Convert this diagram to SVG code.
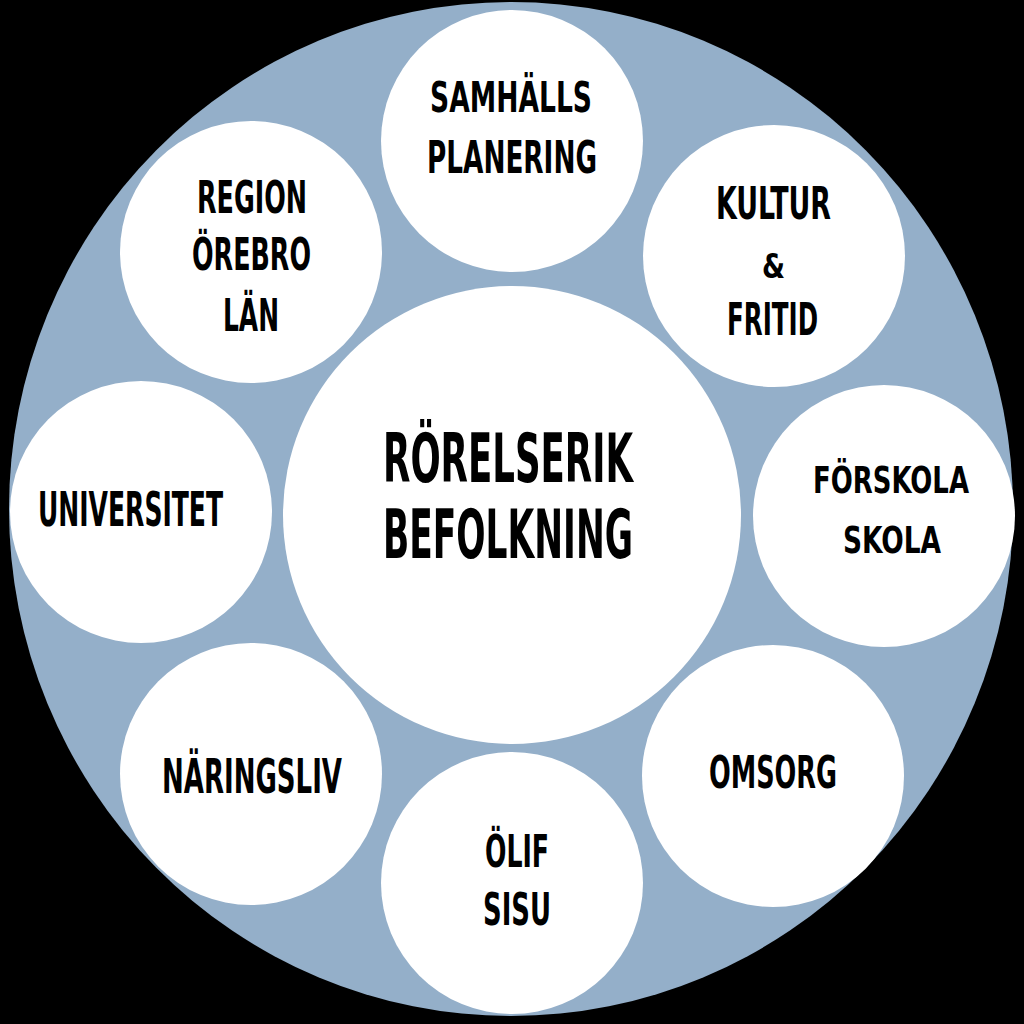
<svg xmlns="http://www.w3.org/2000/svg" width="1024" height="1024" viewBox="0 0 1024 1024">
<style>
.c{fill:#ffffff}
.t{font-family:"DejaVu Sans Condensed","DejaVu Sans",sans-serif;font-weight:bold;fill:#000000;text-anchor:middle;font-size:45px}
.big{font-size:67px}
</style>
<rect x="0" y="0" width="1024" height="1024" fill="#000000"/>
<ellipse id="ring" cx="511" cy="509" rx="502" ry="507" fill="#94afc9"/>
<g id="connectors"/>
<g id="n-center"><circle class="c" cx="512" cy="515" r="229"/>
<text class="t big" x="508" y="482" textLength="250" lengthAdjust="spacingAndGlyphs">RÖRELSERIK</text>
<text class="t big" x="508" y="558" textLength="250" lengthAdjust="spacingAndGlyphs">BEFOLKNING</text></g>
<g id="n-samhalls"><circle class="c" cx="512" cy="141" r="131"/>
<text class="t" x="511" y="112" style="font-size:42px" textLength="162" lengthAdjust="spacingAndGlyphs">SAMHÄLLS</text>
<text class="t" x="512" y="173" textLength="170" lengthAdjust="spacingAndGlyphs">PLANERING</text></g>
<g id="n-kultur"><circle class="c" cx="774" cy="256" r="131"/>
<text class="t" x="773.5" y="219" textLength="115" lengthAdjust="spacingAndGlyphs">KULTUR</text>
<text class="t" x="773.5" y="278" style="font-size:34px" textLength="23" lengthAdjust="spacingAndGlyphs">&amp;</text>
<text class="t" x="772.5" y="335" textLength="91" lengthAdjust="spacingAndGlyphs">FRITID</text></g>
<g id="n-forskola"><circle class="c" cx="884" cy="516" r="131"/>
<text class="t" x="891" y="493" style="font-size:37px" textLength="156" lengthAdjust="spacingAndGlyphs">FÖRSKOLA</text>
<text class="t" x="892" y="553" style="font-size:37px" textLength="98" lengthAdjust="spacingAndGlyphs">SKOLA</text></g>
<g id="n-omsorg"><circle class="c" cx="773" cy="776" r="131"/>
<text class="t" x="773" y="788" textLength="128" lengthAdjust="spacingAndGlyphs">OMSORG</text></g>
<g id="n-olif"><circle class="c" cx="512" cy="883" r="131"/>
<text class="t" x="517" y="867" textLength="64" lengthAdjust="spacingAndGlyphs">ÖLIF</text>
<text class="t" x="517" y="925" textLength="68" lengthAdjust="spacingAndGlyphs">SISU</text></g>
<g id="n-naringsliv"><circle class="c" cx="251" cy="774" r="131"/>
<text class="t" x="252" y="793" style="font-size:48px" textLength="180" lengthAdjust="spacingAndGlyphs">NÄRINGSLIV</text></g>
<g id="n-universitet"><circle class="c" cx="141" cy="512" r="131"/>
<text class="t" x="130.5" y="526" style="font-size:48px" textLength="185" lengthAdjust="spacingAndGlyphs">UNIVERSITET</text></g>
<g id="n-region"><circle class="c" cx="251" cy="252" r="131"/>
<text class="t" x="252" y="213" textLength="110" lengthAdjust="spacingAndGlyphs">REGION</text>
<text class="t" x="251.5" y="270" textLength="119" lengthAdjust="spacingAndGlyphs">ÖREBRO</text>
<text class="t" x="251" y="331" textLength="56" lengthAdjust="spacingAndGlyphs">LÄN</text></g>
</svg>
